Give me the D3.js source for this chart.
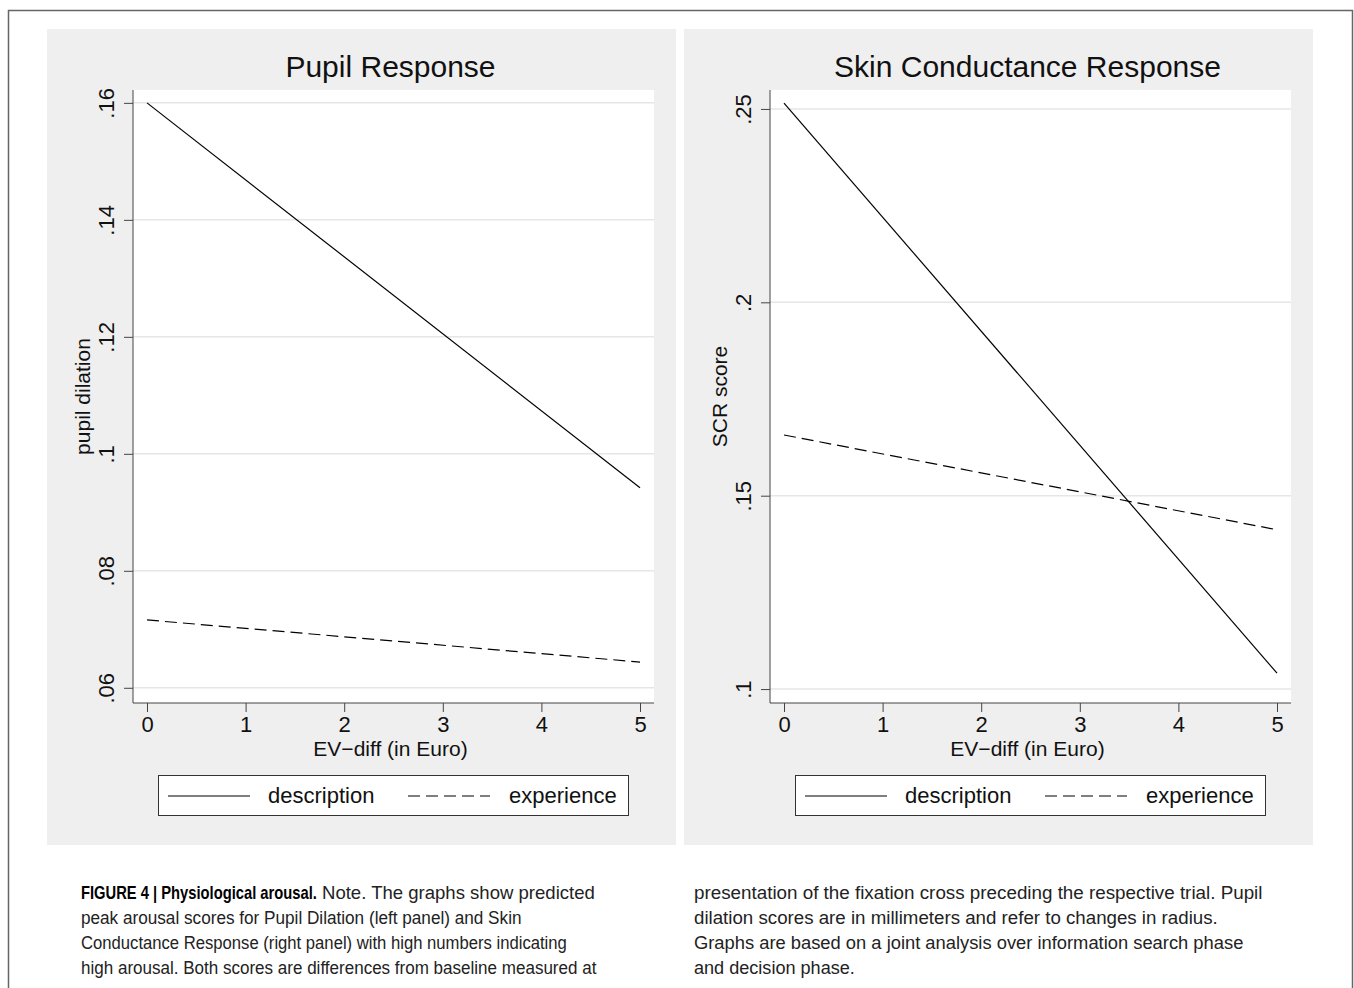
<!doctype html>
<html>
<head>
<meta charset="utf-8"/>
<title>Physiological arousal</title>
<script src="https://d3js.org/d3.v7.min.js"></script>
<style>
  body { margin: 0; background: #fff; }
  text { font-family: "Liberation Sans", Arial, Helvetica, sans-serif; fill: #111; }
  .cap { font-family: "Liberation Sans Narrow", "Arial Narrow", "Liberation Sans", sans-serif; font-size: 18.5px; fill: #222; }
</style>
</head>
<body>
<div id="chart"></div>
<script>
// x values (EV-diff in Euro), lines are straight predictions between the ends
var evDiff = [0, 5];
var xTicks = [0, 1, 2, 3, 4, 5];

var pupilDescription = [0.1600, 0.0942];
var pupilExperience  = [0.0716, 0.0644];
var pupilTicks  = [0.06, 0.08, 0.10, 0.12, 0.14, 0.16];
var pupilLabels = [".06", ".08", ".1", ".12", ".14", ".16"];

var scrDescription = [0.2515, 0.1041];
var scrExperience  = [0.1657, 0.1412];
var scrTicks  = [0.10, 0.15, 0.20, 0.25];
var scrLabels = [".1", ".15", ".2", ".25"];

var seriesNames = ["description", "experience"];

// caption: [text, x, line, width, bold]
var captionParts = [
  ["FIGURE 4 | Physiological arousal.", 81, 0, 236, true],
  ["Note. The graphs show predicted", 322, 0, 273, false],
  ["peak arousal scores for Pupil Dilation (left panel) and Skin", 81, 1, 441, false],
  ["Conductance Response (right panel) with high numbers indicating", 81, 2, 486, false],
  ["high arousal. Both scores are differences from baseline measured at", 81, 3, 516, false],
  ["presentation of the fixation cross preceding the respective trial. Pupil", 694, 0, 569, false],
  ["dilation scores are in millimeters and refer to changes in radius.", 694, 1, 524, false],
  ["Graphs are based on a joint analysis over information search phase", 694, 2, 550, false],
  ["and decision phase.", 694, 3, 161, false]
];

var svg = d3.select("#chart")
  .append("svg")
  .attr("width", 1354)
  .attr("height", 988);

svg.append("rect").attr("width", 1354).attr("height", 988).attr("fill", "#fff");

// page frame
svg.append("path")
  .attr("d", "M8.5,1000 V10.5 H1352.5 V1000")
  .attr("fill", "none")
  .attr("stroke", "#666")
  .attr("stroke-width", 1.5);

function Painel(px, title, ylabel, yTicks, yLabels, yDomain, desc, expe)
{
  // px = left edge of grey panel
  var g = svg.append("g");
  var left = px + 86, right = px + 607, top = 90, bottom = 703;

  g.append("rect")
    .attr("x", px).attr("y", 29)
    .attr("width", 629).attr("height", 816)
    .attr("fill", "#efefef");

  g.append("rect")
    .attr("x", left).attr("y", top)
    .attr("width", right - left).attr("height", bottom - top)
    .attr("fill", "#fff");

  var x = d3.scaleLinear().domain([0, 5]).range([left + 14, right - 14]);
  var y = d3.scaleLinear().domain(yDomain).range([bottom, top]);

  // grid
  g.selectAll(".grid").data(yTicks).enter().append("line")
    .attr("x1", left).attr("x2", right)
    .attr("y1", function(d){ return y(d); })
    .attr("y2", function(d){ return y(d); })
    .attr("stroke", "#e6e6e6").attr("stroke-width", 1.5);

  // y axis
  var yAxis = d3.axisLeft(y).tickValues(yTicks).tickSize(9)
    .tickFormat(function(d, i){ return yLabels[i]; });
  var ya = g.append("g").attr("transform", "translate(" + left + ",0)").call(yAxis);
  ya.select(".domain").attr("d", "M0," + top + "V" + bottom).attr("stroke", "#444");
  ya.selectAll(".tick line").attr("stroke", "#444");
  ya.selectAll(".tick text")
    .attr("font-size", 22)
    .attr("fill", "#111")
    .attr("text-anchor", "middle")
    .attr("x", 0).attr("y", 0).attr("dy", 0)
    .attr("transform", "translate(-19,0) rotate(-90)");

  // x axis
  var xAxis = d3.axisBottom(x).tickValues(xTicks).tickSize(9).tickFormat(d3.format("d"));
  var xa = g.append("g").attr("transform", "translate(0," + bottom + ")").call(xAxis);
  xa.select(".domain").attr("d", "M" + left + ",0H" + right).attr("stroke", "#444");
  xa.selectAll(".tick line").attr("stroke", "#444");
  xa.selectAll(".tick text").attr("font-size", 22).attr("fill", "#111").attr("y", 13);

  // titles
  g.append("text")
    .attr("x", (left + right) / 2 - 3).attr("y", 77)
    .attr("text-anchor", "middle")
    .attr("font-size", 30)
    .text(title);

  g.append("text")
    .attr("x", (left + right) / 2 - 3).attr("y", 756)
    .attr("text-anchor", "middle")
    .attr("font-size", 21)
    .text("EV\u2212diff (in Euro)");

  g.append("text")
    .attr("transform", "translate(" + (px + 43) + "," + ((top + bottom) / 2) + ") rotate(-90)")
    .attr("text-anchor", "middle")
    .attr("font-size", 21)
    .text(ylabel);

  // lines
  var line = d3.line()
    .x(function(d, i){ return x(evDiff[i]); })
    .y(function(d){ return y(d); });

  g.append("path").datum(desc)
    .attr("d", line).attr("fill", "none")
    .attr("stroke", "#000").attr("stroke-width", 1.2);

  g.append("path").datum(expe)
    .attr("d", line).attr("fill", "none")
    .attr("stroke", "#000").attr("stroke-width", 1.2)
    .attr("stroke-dasharray", "12,6");

  // legend
  var lx = px + 111, ly = 775;
  g.append("rect")
    .attr("x", lx + 0.5).attr("y", ly + 0.5)
    .attr("width", 470).attr("height", 40)
    .attr("fill", "#fff").attr("stroke", "#333");

  var items = [
    { name: seriesNames[0], dash: null, x0: lx + 10, tx: lx + 110 },
    { name: seriesNames[1], dash: "12,6", x0: lx + 250, tx: lx + 351 }
  ];
  items.forEach(function(it){
    g.append("line")
      .attr("x1", it.x0).attr("x2", it.x0 + 82)
      .attr("y1", ly + 21).attr("y2", ly + 21)
      .attr("stroke", "#000").attr("stroke-width", 1.2)
      .attr("stroke-dasharray", it.dash);
    g.append("text")
      .attr("x", it.tx).attr("y", ly + 28)
      .attr("font-size", 22)
      .text(it.name);
  });
}

Painel(47, "Pupil Response", "pupil dilation", pupilTicks, pupilLabels,
  [0.0574, 0.1622], pupilDescription, pupilExperience);

Painel(684, "Skin Conductance Response", "SCR score", scrTicks, scrLabels,
  [0.0964, 0.2549], scrDescription, scrExperience);

// caption: condensed face emulated by squeezing each piece horizontally
captionParts.forEach(function(c){
  var t = svg.append("text").attr("class", "cap")
    .attr("x", 0).attr("y", 0)
    .attr("font-weight", c[4] ? "bold" : null)
    .style("fill", c[4] ? "#000" : null)
    .text(c[0]);
  var w = t.node().getComputedTextLength();
  var k = w > 0 ? c[3] / w : 1;
  t.attr("transform", "translate(" + c[1] + "," + (899 + c[2] * 25) + ") scale(" + k + ",1)");
});
</script>
</body>
</html>
